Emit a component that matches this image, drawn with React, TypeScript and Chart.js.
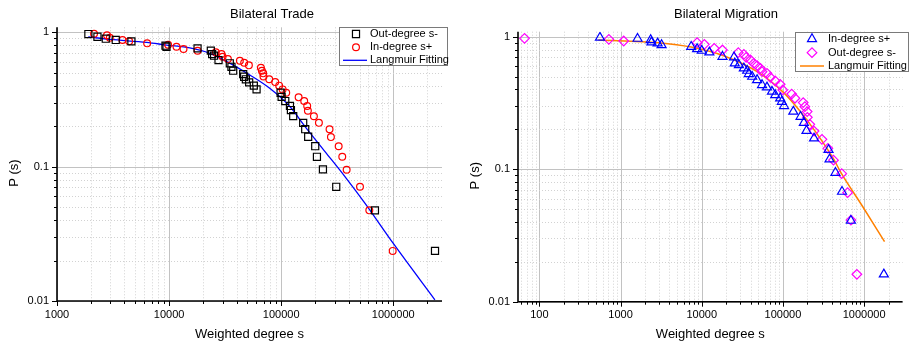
import React, { useEffect, useRef } from 'react';
import { Chart, registerables } from 'chart.js';

Chart.register(...registerables);

const FONT = "'Liberation Sans', Arial, Helvetica, sans-serif";

// ---------- Bilateral Trade ----------
const tradeOutS = [1905, 2295, 2723, 3342, 4611, 9285, 9480, 17940, 23560, 24200, 25200, 27600, 34800, 36000, 37300, 45800, 46700, 48400, 51800, 57000, 60300, 98800, 100900, 108700, 119700, 122100, 128000, 157100, 163800, 174100, 201200, 208400, 235700, 309800, 686000, 2356000];
const tradeOutP = [0.971, 0.927, 0.896, 0.877, 0.857, 0.795, 0.781, 0.760, 0.730, 0.689, 0.670, 0.622, 0.588, 0.554, 0.518, 0.489, 0.467, 0.447, 0.424, 0.401, 0.376, 0.355, 0.331, 0.308, 0.283, 0.264, 0.238, 0.212, 0.190, 0.167, 0.142, 0.1185, 0.0955, 0.0708, 0.0473, 0.0236];

const tradeInS = [2140, 2793, 2960, 3837, 4400, 6370, 9800, 11640, 13450, 17950, 26100, 29350, 30000, 33460, 42780, 46770, 51500, 65900, 67300, 69100, 69500, 78200, 88400, 95900, 103000, 110900, 143000, 160400, 170600, 173000, 195800, 217000, 270000, 277700, 325600, 350600, 383600, 504600, 611000, 988000];
const tradeInP = [0.976, 0.950, 0.912, 0.877, 0.857, 0.828, 0.809, 0.781, 0.751, 0.730, 0.710, 0.689, 0.658, 0.632, 0.615, 0.594, 0.568, 0.545, 0.518, 0.495, 0.470, 0.447, 0.426, 0.401, 0.376, 0.355, 0.328, 0.308, 0.283, 0.261, 0.237, 0.212, 0.190, 0.166, 0.142, 0.1185, 0.0948, 0.0708, 0.0473, 0.0236];

const tradeFitS = [1900, 3000, 6300, 9500, 15300, 23000, 35000, 52500, 79000, 120000, 164000, 247000, 372000, 560000, 1000000, 2350000];
const tradeFitP = [0.925, 0.885, 0.842, 0.804, 0.765, 0.698, 0.588, 0.481, 0.383, 0.279, 0.198, 0.129, 0.084, 0.0533, 0.0268, 0.0102];

// ---------- Bilateral Migration ----------
const migInS = [557, 1618, 2350, 2400, 2858, 3200, 7413, 8770, 10000, 12400, 18000, 25000, 25500, 28700, 33000, 36300, 38000, 41800, 48100, 55300, 63600, 73200, 80400, 92500, 96900, 103300, 134200, 164900, 181100, 195100, 241700, 364500, 375000, 443600, 534600, 688000, 1750000];
const migInP = [0.985, 0.966, 0.944, 0.906, 0.891, 0.865, 0.840, 0.807, 0.784, 0.762, 0.706, 0.700, 0.629, 0.611, 0.577, 0.554, 0.523, 0.499, 0.471, 0.432, 0.415, 0.385, 0.363, 0.343, 0.323, 0.300, 0.272, 0.249, 0.224, 0.195, 0.171, 0.140, 0.1186, 0.0941, 0.0677, 0.0409, 0.0161];

const migOutS = [65.6, 717, 1093, 8770, 10770, 14260, 18000, 28200, 33000, 35200, 39800, 43700, 48100, 52800, 55300, 63600, 69800, 80400, 92500, 99600, 128200, 140700, 177700, 186300, 198800, 200000, 214200, 241700, 302500, 357800, 419600, 529700, 626500, 688000, 814800];
const migOutP = [0.971, 0.955, 0.927, 0.901, 0.875, 0.817, 0.793, 0.757, 0.736, 0.698, 0.667, 0.629, 0.604, 0.577, 0.544, 0.529, 0.493, 0.463, 0.437, 0.396, 0.369, 0.343, 0.318, 0.296, 0.272, 0.246, 0.218, 0.194, 0.168, 0.1436, 0.117, 0.0925, 0.0665, 0.0413, 0.0161];

const migFitS = [532, 2910, 7410, 18900, 48100, 101400, 161800, 258000, 412000, 525000, 955000, 1786000];
const migFitP = [0.944, 0.901, 0.835, 0.715, 0.545, 0.38, 0.275, 0.188, 0.122, 0.093, 0.0525, 0.0284];

// ---------- ticks ----------
const tradeXTicks = [1000, 10000, 100000, 1000000];
const migXTicks = [100, 1000, 10000, 100000, 1000000];
const yTicks = [0.01, 0.1, 1];

const pts = (xs: number[], ys: number[]) => xs.map((x, i) => ({ x, y: ys[i] }));

function fmt(v: number): string {
  const e = Math.round(Math.log10(v));
  return e >= 0 ? String(Math.round(Math.pow(10, e))) : Math.pow(10, e).toFixed(-e);
}

function drawMarker(ctx: CanvasRenderingContext2D, style: string, x: number, y: number, r: number) {
  ctx.beginPath();
  if (style === 'rect') {
    const s = Math.SQRT1_2 * r;
    ctx.rect(x - s, y - s, 2 * s, 2 * s);
  } else if (style === 'circle') {
    ctx.arc(x, y, r, 0, Math.PI * 2);
  } else if (style === 'triangle') {
    for (let i = 0; i < 3; i++) {
      const a = (i * 2 * Math.PI) / 3;
      const px = x + Math.sin(a) * r;
      const py = y - Math.cos(a) * r;
      if (i === 0) ctx.moveTo(px, py);
      else ctx.lineTo(px, py);
    }
    ctx.closePath();
  } else if (style === 'rectRot') {
    ctx.moveTo(x - r, y);
    ctx.lineTo(x, y - r);
    ctx.lineTo(x + r, y);
    ctx.lineTo(x, y + r);
    ctx.closePath();
  }
  ctx.stroke();
}

const decor = {
  id: 'decor',
  beforeDatasetsDraw(chart: any, _args: any, o: any) {
    const { ctx, chartArea: a } = chart;
    const xs = chart.scales.x;
    const ys = chart.scales.y;
    ctx.save();
    ctx.lineWidth = 1;
    const grid = (scale: any, horiz: boolean) => {
      const lo = Math.floor(Math.log10(scale.min));
      const hi = Math.ceil(Math.log10(scale.max));
      for (let d = lo; d <= hi; d++) {
        for (let k = 1; k <= 9; k++) {
          const v = k * Math.pow(10, d);
          if (v < scale.min * 0.9999 || v > scale.max * 1.0001) continue;
          const p = Math.round(scale.getPixelForValue(v)) + 0.5;
          ctx.beginPath();
          if (k === 1) {
            ctx.setLineDash([]);
            ctx.strokeStyle = '#c2c2c2';
          } else {
            ctx.setLineDash([1, 2]);
            ctx.strokeStyle = '#d2d2d2';
          }
          if (horiz) {
            ctx.moveTo(a.left, p);
            ctx.lineTo(a.right, p);
          } else {
            ctx.moveTo(p, a.top);
            ctx.lineTo(p, a.bottom);
          }
          ctx.stroke();
        }
      }
    };
    grid(xs, false);
    grid(ys, true);
    ctx.restore();
  },
  afterDatasetsDraw(chart: any, _args: any, o: any) {
    const { ctx, chartArea: a } = chart;
    const xs = chart.scales.x;
    const ys = chart.scales.y;
    ctx.save();
    ctx.setLineDash([]);
    ctx.strokeStyle = '#000';
    // ticks
    ctx.lineWidth = 1;
    const ticks = (scale: any, horiz: boolean) => {
      const lo = Math.floor(Math.log10(scale.min));
      const hi = Math.ceil(Math.log10(scale.max));
      for (let d = lo; d <= hi; d++) {
        for (let k = 1; k <= 9; k++) {
          const v = k * Math.pow(10, d);
          if (v < scale.min * 0.9999 || v > scale.max * 1.0001) continue;
          const p = Math.round(scale.getPixelForValue(v)) + 0.5;
          const len = k === 1 ? 5 : 3;
          ctx.beginPath();
          if (horiz) {
            ctx.moveTo(a.left, p);
            ctx.lineTo(a.left - len, p);
          } else {
            ctx.moveTo(p, a.bottom);
            ctx.lineTo(p, a.bottom + len);
          }
          ctx.stroke();
        }
      }
    };
    ticks(xs, false);
    ticks(ys, true);
    // axes
    ctx.lineWidth = 1.6;
    ctx.beginPath();
    ctx.moveTo(a.left, a.top);
    ctx.lineTo(a.left, a.bottom);
    ctx.lineTo(a.right, a.bottom);
    ctx.stroke();

    // title
    ctx.fillStyle = '#000';
    ctx.font = `13px ${FONT}`;
    ctx.textAlign = 'center';
    ctx.textBaseline = 'middle';
    ctx.fillText(o.title, o.titleX, 14.3);

    // y axis title
    ctx.save();
    ctx.translate(o.yTitleX, (a.top + a.bottom) / 2 + o.yTitleShift);
    ctx.rotate(-Math.PI / 2);
    ctx.fillText('P (s)', 0, 0);
    ctx.restore();

    // legend
    const L = o.legend;
    ctx.fillStyle = '#fff';
    ctx.fillRect(L.x, L.y, L.w, L.h);
    ctx.strokeStyle = '#7a7a7a';
    ctx.lineWidth = 1;
    ctx.strokeRect(L.x + 0.5, L.y + 0.5, L.w - 1, L.h - 1);
    ctx.font = `11px ${FONT}`;
    ctx.textAlign = 'left';
    ctx.textBaseline = 'middle';
    chart.data.datasets.forEach((ds: any, i: number) => {
      const yy = L.rows[i];
      ctx.strokeStyle = ds.borderColor;
      if (ds.showLine) {
        ctx.lineWidth = ds.borderWidth;
        ctx.beginPath();
        ctx.moveTo(L.lineX0, yy);
        ctx.lineTo(L.lineX1, yy);
        ctx.stroke();
      } else {
        ctx.lineWidth = ds.pointBorderWidth;
        drawMarker(ctx, ds.pointStyle, L.markerX, yy, ds.pointRadius);
      }
      ctx.fillStyle = '#000';
      ctx.fillText(ds.label, L.textX, yy);
    });
    ctx.restore();
  },
};

function scatterSet(label: string, data: any[], color: string, style: string, r: number) {
  return {
    label,
    data,
    showLine: false,
    borderColor: color,
    pointBorderColor: color,
    pointBackgroundColor: 'rgba(0,0,0,0)',
    pointStyle: style,
    pointRadius: r,
    pointHoverRadius: r,
    pointBorderWidth: 1.2,
    borderWidth: 1.2,
  };
}

function fitSet(label: string, data: any[], color: string, w: number) {
  return {
    label,
    data,
    showLine: true,
    borderColor: color,
    backgroundColor: color,
    borderWidth: w,
    pointRadius: 0,
    pointHoverRadius: 0,
    cubicInterpolationMode: 'monotone',
    fill: false,
  };
}

function buildConfig(p: any): any {
  const tickFont = { size: 11, family: FONT };
  return {
    type: 'scatter',
    data: { datasets: p.datasets },
    plugins: [decor],
    options: {
      responsive: false,
      animation: false,
      devicePixelRatio: 1,
      layout: { padding: { left: p.padLeft, right: p.padRight, top: p.padTop, bottom: 0 } },
      plugins: {
        legend: { display: false },
        tooltip: { enabled: false },
        title: { display: false },
        decor: {
          title: p.title,
          titleX: p.titleX,
          yTitleX: p.yTitleX,
          yTitleShift: 9,
          legend: p.legend,
        },
      },
      scales: {
        x: {
          type: 'logarithmic',
          min: p.xMin,
          max: p.xMax,
          afterBuildTicks: (s: any) => {
            s.ticks = p.xTicks.map((v: number) => ({ value: v }));
          },
          afterFit: (s: any) => {
            s.height = p.xAxisH;
          },
          ticks: {
            callback: (v: any) => fmt(Number(v)),
            autoSkip: false,
            maxRotation: 0,
            minRotation: 0,
            padding: 7,
            font: tickFont,
            color: '#000',
          },
          grid: { display: false, drawTicks: false },
          border: { display: false },
          title: {
            display: true,
            text: 'Weighted degree s',
            font: { size: 13, family: FONT },
            color: '#000',
            padding: { top: 0, bottom: 3.5 },
          },
        },
        y: {
          type: 'logarithmic',
          min: 0.01,
          max: 1.09,
          afterBuildTicks: (s: any) => {
            s.ticks = yTicks.map((v) => ({ value: v }));
          },
          afterFit: (s: any) => {
            s.width = 57;
          },
          ticks: {
            callback: (v: any) => fmt(Number(v)),
            autoSkip: false,
            padding: 8,
            font: tickFont,
            color: '#000',
          },
          grid: { display: false, drawTicks: false },
          border: { display: false },
        },
      },
    },
  };
}

const tradeConfig = () =>
  buildConfig({
    datasets: [
      scatterSet('Out-degree s-', pts(tradeOutS, tradeOutP), '#000000', 'rect', 5),
      scatterSet('In-degree s+', pts(tradeInS, tradeInP), '#ff0000', 'circle', 3.4),
      fitSet('Langmuir Fitting', pts(tradeFitS, tradeFitP), '#0000ff', 1.3),
    ],
    xMin: 1000,
    xMax: 2.72e6,
    xTicks: tradeXTicks,
    padLeft: 0,
    padRight: 13,
    padTop: 27.3,
    xAxisH: 45,
    title: 'Bilateral Trade',
    titleX: 272,
    yTitleX: 14,
    legend: { x: 339, y: 27, w: 109, h: 39, rows: [34, 47.3, 60.3], markerX: 356, lineX0: 343, lineX1: 367, textX: 370 },
  });

const migConfig = () =>
  buildConfig({
    datasets: [
      scatterSet('In-degree s+', pts(migInS, migInP), '#0000ff', 'triangle', 5.2),
      scatterSet('Out-degree s-', pts(migOutS, migOutP), '#ff00ff', 'rectRot', 4.8),
      fitSet('Langmuir Fitting', pts(migFitS, migFitP), '#ff8000', 1.5),
    ],
    xMin: 54.5,
    xMax: 2.98e6,
    xTicks: migXTicks,
    padLeft: 6,
    padRight: 1.7,
    padTop: 31.7,
    xAxisH: 44.3,
    title: 'Bilateral Migration',
    titleX: 271,
    yTitleX: 20,
    legend: { x: 340, y: 32, w: 114, h: 40, rows: [39, 52.7, 66], markerX: 357, lineX0: 345, lineX1: 369, textX: 373 },
  });

function LogChart({ make, left, width }: { make: () => any; left: number; width: number }) {
  const ref = useRef<HTMLCanvasElement>(null);
  useEffect(() => {
    const chart = new Chart(ref.current as HTMLCanvasElement, make());
    return () => chart.destroy();
  }, [make]);
  return (
    <canvas
      ref={ref}
      width={width}
      height={346}
      style={{ position: 'absolute', left, top: 0, width, height: 346, display: 'block' }}
    />
  );
}

export default function App() {
  return (
    <div
      style={{
        position: 'fixed',
        left: 0,
        top: 0,
        width: 909,
        height: 346,
        background: '#ffffff',
        overflow: 'hidden',
      }}
    >
      <LogChart make={tradeConfig} left={0} width={455} />
      <LogChart make={migConfig} left={455} width={454} />
    </div>
  );
}
